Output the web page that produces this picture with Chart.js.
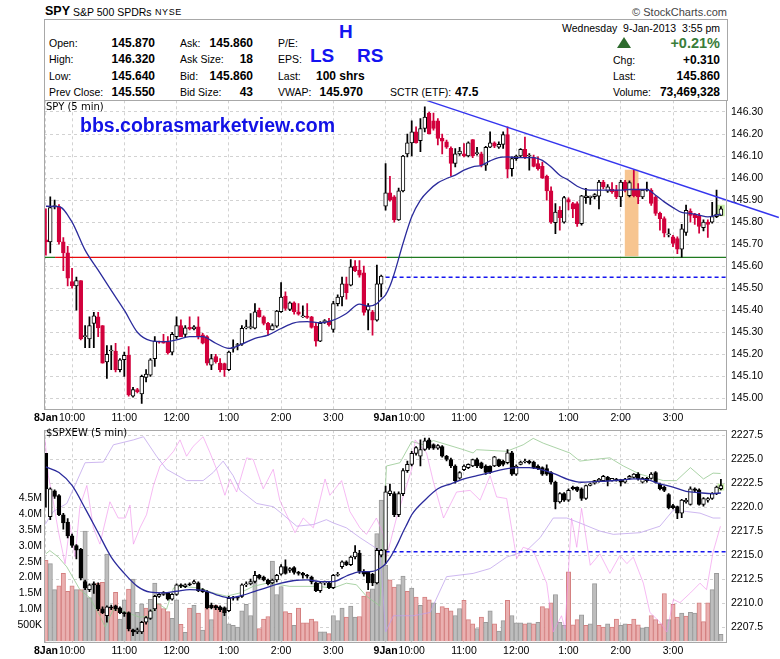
<!DOCTYPE html>
<html>
<head>
<title>SPY 5 min - StockCharts</title>
<style>
  body, html { margin: 0; padding: 0; background: #fff; }
  #page { position: relative; width: 780px; height: 659px; overflow: hidden;
          font-family: "Liberation Sans", Arial, sans-serif; color: #000; }
  .a { position: absolute; white-space: pre; line-height: 14px; font-size: 10.5px; }
  .b { font-weight: bold; font-size: 12px; }
  .big { font-weight: bold; font-size: 19px; color: #1414f0; line-height: 20px; }
  .pan { font-family: "DejaVu Sans", Verdana, sans-serif; font-size: 10px; }
  #box { position: absolute; left: 44px; top: 19px; width: 684px; height: 82px;
         border: 1px solid #a8a8a8; box-sizing: border-box; }
  #tri { position: absolute; left: 617px; top: 37px; width: 0; height: 0;
         border-left: 7px solid transparent; border-right: 7px solid transparent;
         border-bottom: 11px solid #2e6b2e; }
  canvas { position: absolute; left: 0; }
</style>
</head>
<body>
<div id="page">
  <div id="box"></div>
  <div class="a" style="left:45px;top:4px;font-weight:bold;font-size:12.5px;">SPY</div>
  <div class="a" style="left:73px;top:5px;font-size:10.5px;">S&amp;P 500 SPDRs</div>
  <div class="a" style="left:155px;top:5px;font-size:9px;letter-spacing:0.6px;">NYSE</div>
  <div class="a" style="right:53px;top:5px;font-size:11px;color:#444;">&copy; StockCharts.com</div>

  <div class="a" style="left:49px;top:36px;">Open:</div>
  <div class="a" style="left:49px;top:52px;">High:</div>
  <div class="a" style="left:49px;top:69px;">Low:</div>
  <div class="a" style="left:49px;top:85px;">Prev Close:</div>
  <div class="a b" style="right:625px;top:36px;">145.870</div>
  <div class="a b" style="right:625px;top:52px;">146.320</div>
  <div class="a b" style="right:625px;top:69px;">145.640</div>
  <div class="a b" style="right:625px;top:85px;">145.550</div>

  <div class="a" style="left:180px;top:36px;">Ask:</div>
  <div class="a" style="left:180px;top:52px;">Ask Size:</div>
  <div class="a" style="left:180px;top:69px;">Bid:</div>
  <div class="a" style="left:180px;top:85px;">Bid Size:</div>
  <div class="a b" style="right:527px;top:36px;">145.860</div>
  <div class="a b" style="right:527px;top:52px;">18</div>
  <div class="a b" style="right:527px;top:69px;">145.860</div>
  <div class="a b" style="right:527px;top:85px;">43</div>

  <div class="a" style="left:278px;top:36px;">P/E:</div>
  <div class="a" style="left:278px;top:52px;">EPS:</div>
  <div class="a" style="left:278px;top:69px;">Last:</div>
  <div class="a" style="left:278px;top:85px;">VWAP:</div>
  <div class="a b" style="left:316px;top:69px;">100 shrs</div>
  <div class="a b" style="right:417px;top:85px;">145.970</div>
  <div class="a" style="left:390px;top:85px;">SCTR (ETF):</div>
  <div class="a b" style="left:455px;top:85px;">47.5</div>

  <div class="a big" style="left:339px;top:22px;">H</div>
  <div class="a big" style="left:310px;top:46px;">LS</div>
  <div class="a big" style="left:357px;top:46px;">RS</div>

  <div class="a" style="right:60px;top:21px;">Wednesday  9-Jan-2013  3:55 pm</div>
  <div id="tri"></div>
  <div class="a" style="right:60px;top:36px;font-weight:bold;font-size:14.5px;color:#3a7d3a;line-height:15px;">+0.21%</div>
  <div class="a" style="left:613px;top:53px;">Chg:</div>
  <div class="a b" style="right:60px;top:53px;">+0.310</div>
  <div class="a" style="left:613px;top:69px;">Last:</div>
  <div class="a b" style="right:60px;top:69px;">145.860</div>
  <div class="a" style="left:613px;top:85px;">Volume:</div>
  <div class="a b" style="right:60px;top:85px;">73,469,328</div>

  <canvas id="priceChart" width="780" height="335" style="top:90px;"></canvas>
  <canvas id="breadthChart" width="780" height="239" style="top:420px;"></canvas>

  <div class="a pan" style="left:46px;top:100px;">SPY (5 min)</div>
  <div class="a" style="left:80px;top:115px;font-weight:bold;font-size:19.5px;line-height:20px;color:#1212e6;">bbs.cobrasmarketview.com</div>
  <div class="a pan" style="left:46px;top:426px;">$SPXEW (5 min)</div>
</div>

<script src="https://cdn.jsdelivr.net/npm/chart.js"></script>
<script>
// 5-minute bars: 0..77 = 8 Jan 9:30-3:55, 78..155 = 9 Jan 9:30-3:55
const tickBars  = [0, 6, 18, 30, 42, 54, 66, 78, 84, 96, 108, 120, 132, 144];
const tickNames = ['8Jan', '10:00', '11:00', '12:00', '1:00', '2:00', '3:00',
                   '9Jan', '10:00', '11:00', '12:00', '1:00', '2:00', '3:00'];

// SPY candles
const spyOpen = [
  145.72,145.71,145.87,145.87,145.71,145.66,145.53,145.51,145.535,145.28,
  145.27,145.34,145.37,145.33,145.165,145.215,145.215,145.13,145.175,145.195,
  145.01,145.04,145.02,145.095,145.105,145.18,145.26,145.26,145.255,145.21,
  145.28,145.33,145.29,145.322,145.315,145.325,145.288,145.28,145.15,145.19,
  145.16,145.158,145.13,145.226,145.24,145.246,145.32,145.32,145.318,145.40,
  145.37,145.34,145.31,145.328,145.393,145.464,145.404,145.434,145.393,145.37,
  145.373,145.37,145.328,145.26,145.348,145.351,145.313,145.43,145.46,145.52,
  145.514,145.60,145.582,145.57,145.40,145.393,145.355,145.518,
  145.872,145.933,145.915,145.81,145.942,146.11,146.16,146.21,146.17,146.225,
  146.295,146.26,146.26,146.18,146.164,146.135,146.066,146.11,146.11,146.10,
  146.175,146.111,146.11,146.058,146.14,146.16,146.14,146.153,146.197,146.043,
  146.088,146.10,146.13,146.10,146.093,146.066,146.053,146.008,145.942,145.797,
  145.854,145.80,145.902,145.884,145.884,145.793,145.911,145.911,145.915,145.918,
  145.982,145.94,145.95,145.945,145.914,145.982,145.92,145.95,145.947,145.914,
  145.945,145.945,145.914,145.84,145.816,145.742,145.733,145.725,145.677,145.753,
  145.85,145.835,145.83,145.775,145.80,145.80,145.825,145.83
];
const spyHigh = [
  145.86,145.915,145.90,145.88,145.73,145.69,145.59,145.55,145.535,145.33,
  145.37,145.39,145.39,145.33,145.24,145.24,145.25,145.18,145.21,145.235,
  145.05,145.045,145.105,145.13,145.18,145.28,145.26,145.29,145.28,145.30,
  145.37,145.356,145.33,145.37,145.33,145.37,145.295,145.285,145.20,145.20,
  145.18,145.16,145.215,145.265,145.25,145.33,145.355,145.385,145.43,145.41,
  145.375,145.345,145.338,145.40,145.525,145.484,145.438,145.438,145.43,145.42,
  145.43,145.372,145.34,145.348,145.358,145.363,145.44,145.47,145.55,145.55,
  145.63,145.625,145.625,145.60,145.43,145.40,145.605,145.56,
  146.066,146.008,145.92,145.955,146.103,146.20,146.26,146.232,146.27,146.323,
  146.30,146.295,146.27,146.20,146.172,146.142,146.134,146.14,146.156,146.164,
  146.175,146.14,146.118,146.144,146.21,146.164,146.164,146.21,146.232,146.096,
  146.104,146.134,146.186,146.111,146.104,146.096,146.073,146.013,145.96,145.884,
  145.87,145.917,145.91,145.89,145.892,145.922,145.953,145.918,145.93,145.99,
  145.99,145.97,145.98,145.967,145.99,145.99,145.987,146.035,145.975,145.948,
  145.982,145.952,145.92,145.846,145.824,145.77,145.74,145.733,145.79,145.877,
  145.86,145.84,145.84,145.81,145.81,145.89,145.945,145.87
];
const spyLow = [
  145.65,145.66,145.86,145.70,145.58,145.51,145.50,145.40,145.265,145.23,
  145.23,145.23,145.28,145.16,145.09,145.13,145.12,145.12,145.10,145.01,
  145.005,145.025,144.977,145.075,145.10,145.145,145.25,145.25,145.20,145.197,
  145.27,145.28,145.28,145.31,145.31,145.27,145.247,145.15,145.13,145.16,
  145.12,145.10,145.125,145.21,145.22,145.24,145.315,145.315,145.315,145.368,
  145.333,145.287,145.31,145.322,145.39,145.40,145.398,145.382,145.378,145.367,
  145.363,145.318,145.237,145.257,145.34,145.328,145.30,145.42,145.42,145.45,
  145.51,145.575,145.55,145.378,145.31,145.287,145.35,145.46,
  145.854,145.895,145.80,145.808,145.937,146.096,146.10,146.158,146.12,146.21,
  146.20,146.217,146.15,146.11,146.134,146.008,146.05,146.103,146.096,146.096,
  146.093,146.104,146.05,146.035,146.138,146.138,146.134,146.134,146.002,146.008,
  146.08,146.093,146.088,146.036,146.05,146.036,145.998,145.90,145.794,145.748,
  145.763,145.795,145.855,145.82,145.78,145.786,145.885,145.88,145.905,145.86,
  145.952,145.935,145.93,145.906,145.87,145.937,145.914,145.914,145.884,145.906,
  145.94,145.876,145.83,145.763,145.733,145.733,145.688,145.657,145.641,145.74,
  145.80,145.79,145.75,145.76,145.73,145.795,145.82,145.83
];
const spyClose = [
  145.71,145.866,145.875,145.71,145.66,145.545,145.51,145.535,145.27,145.28,
  145.33,145.375,145.32,145.16,145.20,145.215,145.13,145.175,145.195,145.015,
  145.04,145.03,145.10,145.11,145.175,145.26,145.255,145.25,145.207,145.29,
  145.33,145.28,145.32,145.315,145.325,145.28,145.25,145.16,145.18,145.166,
  145.13,145.13,145.21,145.226,145.24,145.318,145.32,145.326,145.393,145.37,
  145.34,145.31,145.33,145.396,145.46,145.408,145.434,145.393,145.382,145.372,
  145.367,145.322,145.26,145.34,145.35,145.333,145.43,145.46,145.52,145.48,
  145.597,145.58,145.559,145.39,145.42,145.355,145.52,145.555,
  145.933,145.90,145.81,145.942,146.10,146.16,146.21,146.16,146.225,146.277,
  146.20,146.225,146.18,146.168,146.14,146.066,146.11,146.123,146.10,146.16,
  146.10,146.111,146.058,146.14,146.16,146.145,146.153,146.197,146.04,146.088,
  146.10,146.13,146.093,146.10,146.053,146.043,146.00,145.942,145.80,145.846,
  145.82,145.911,145.89,145.86,145.793,145.919,145.919,145.918,145.925,145.982,
  145.96,145.96,145.937,145.914,145.982,145.945,145.98,145.92,145.914,145.945,
  145.945,145.885,145.84,145.816,145.75,145.742,145.703,145.677,145.77,145.854,
  145.83,145.82,145.78,145.80,145.79,145.825,145.836,145.86
];
// SPY moving average, read at [bar, price]
const spyAvg = [
  [0,145.872],[3,145.87],[6,145.80],[9,145.673],[12,145.582],[15,145.49],[18,145.40],
  [21,145.30],[24,145.262],[27,145.257],[30,145.265],[33,145.28],[36,145.28],[39,145.25],
  [42,145.227],[45,145.246],[48,145.272],[51,145.287],[54,145.317],[57,145.343],[60,145.348],
  [63,145.343],[66,145.355],[69,145.385],[72,145.428],[74,145.418],[76,145.43],[77,145.45],
  [78,145.47],[79,145.51],[80,145.567],[82,145.703],[84,145.824],[86,145.90],[88,145.945],
  [90,145.978],[92,145.998],[94,146.013],[96,146.036],[98,146.051],[100,146.058],[102,146.078],
  [104,146.093],[106,146.096],[108,146.093],[110,146.093],[112,146.093],[114,146.08],[116,146.05],
  [118,146.013],[120,145.99],[122,145.963],[124,145.948],[126,145.945],[128,145.945],[130,145.945],
  [132,145.945],[134,145.948],[136,145.948],[138,145.948],[140,145.922],[142,145.892],[144,145.866],
  [146,145.844],[148,145.84],[150,145.832],[152,145.824],[154,145.832],[155,145.836]
];
const lowLevel = 145.64;
const prevClose = 145.55;
const trendPts = [[87.4, 146.353], [168.3, 145.821]];
const hiZone = { bar: 134.5, low: 145.647, high: 146.036 };
const spyLastMark = { bar: 155, low: 145.828, high: 145.877 };

// $SPXEW candles
const exOpen = [
  2225.6,2219.0,2221.7,2221.2,2219.2,2218.45,2217.0,2216.0,2215.6,2212.25,
  2211.4,2212.0,2211.9,2209.4,2208.7,2209.6,2209.7,2209.5,2209.0,2209.0,
  2207.2,2207.0,2207.0,2208.0,2208.4,2209.4,2210.7,2210.9,2211.06,2210.4,
  2210.9,2211.9,2211.7,2212.0,2212.05,2212.1,2211.4,2211.2,2209.8,2209.7,
  2209.6,2209.5,2209.2,2210.6,2210.6,2210.7,2211.9,2212.0,2212.25,2212.9,
  2212.7,2212.4,2212.1,2212.4,2213.0,2213.8,2213.4,2213.7,2213.2,2213.1,
  2212.9,2212.7,2212.1,2211.3,2212.1,2212.1,2211.6,2212.9,2213.8,2214.3,
  2214.0,2214.8,2215.2,2213.3,2213.2,2213.0,2212.1,2215.0,
  2215.5,2221.4,2221.4,2219.2,2221.4,2223.8,2224.45,2225.6,2225.3,2226.0,
  2227.0,2226.5,2226.15,2226.3,2225.3,2224.96,2224.28,2223.0,2223.9,2224.1,
  2224.28,2224.96,2224.6,2224.28,2224.28,2224.28,2224.96,2224.8,2224.62,2225.64,
  2223.43,2224.45,2224.7,2224.8,2224.7,2224.28,2224.11,2224.0,2223.6,2222.59,
  2220.55,2221.4,2220.72,2222.08,2222.08,2221.91,2220.89,2222.25,2222.5,2222.7,
  2222.76,2223.1,2222.76,2222.93,2222.86,2222.59,2222.99,2223.1,2223.43,2222.6,
  2222.99,2222.99,2223.6,2222.4,2222.08,2221.3,2220.15,2220.04,2219.37,2220.55,
  2220.28,2221.91,2221.8,2220.28,2220.72,2220.89,2221.4,2221.91
];
const exHigh = [
  2225.6,2222.0,2221.8,2221.3,2219.35,2218.8,2217.2,2216.1,2215.7,2212.4,
  2212.0,2212.2,2212.1,2209.6,2209.7,2209.8,2209.8,2209.6,2209.1,2209.1,
  2207.3,2207.4,2208.1,2208.6,2209.3,2210.8,2211.0,2211.2,2211.1,2211.0,
  2212.0,2212.0,2212.0,2212.1,2212.4,2212.2,2211.5,2211.3,2210.0,2209.8,
  2209.7,2209.6,2210.7,2210.7,2210.6,2212.0,2212.2,2212.5,2213.3,2213.0,
  2212.8,2212.5,2212.5,2213.0,2214.0,2214.5,2213.7,2213.8,2213.3,2213.2,
  2213.0,2212.8,2212.2,2212.2,2212.3,2212.2,2213.0,2213.2,2214.4,2214.4,
  2214.9,2216.0,2215.5,2213.5,2213.3,2213.1,2215.7,2215.6,
  2222.2,2222.4,2221.6,2221.6,2224.0,2224.8,2225.8,2226.3,2227.0,2227.2,
  2227.2,2226.6,2226.5,2226.4,2225.4,2225.1,2224.4,2223.7,2224.4,2224.5,
  2225.0,2225.1,2224.7,2224.4,2224.3,2225.3,2225.0,2224.9,2226.0,2225.8,
  2224.4,2224.8,2225.0,2224.9,2224.8,2224.4,2224.2,2224.4,2223.7,2222.7,
  2221.5,2221.5,2221.9,2222.2,2222.1,2222.0,2222.3,2222.5,2222.8,2223.0,
  2223.3,2223.2,2223.0,2223.0,2222.9,2223.0,2223.3,2223.5,2223.6,2223.1,
  2223.1,2223.6,2223.7,2222.5,2222.2,2221.4,2220.3,2220.1,2220.8,2220.9,
  2222.1,2222.0,2221.9,2221.0,2221.0,2221.5,2222.2,2222.9
];
const exLow = [
  2220.0,2218.7,2220.9,2219.1,2217.7,2216.8,2215.8,2214.6,2212.4,2211.4,
  2211.2,2211.0,2209.2,2208.9,2208.0,2209.3,2209.2,2208.9,2208.6,2207.1,
  2206.6,2206.8,2206.8,2207.8,2208.3,2209.2,2210.6,2210.8,2210.3,2210.3,
  2210.8,2211.6,2211.6,2211.8,2212.0,2211.2,2211.1,2209.4,2209.4,2209.3,
  2209.1,2208.7,2209.1,2210.3,2210.3,2210.6,2211.7,2211.9,2212.1,2212.5,
  2212.3,2211.9,2212.0,2212.2,2212.9,2213.0,2213.2,2213.0,2212.9,2212.6,
  2212.6,2212.0,2211.2,2211.1,2211.9,2211.5,2211.5,2212.8,2213.6,2213.9,
  2213.9,2214.6,2213.1,2212.8,2211.4,2211.8,2212.0,2214.8,
  2214.1,2221.2,2219.0,2219.0,2221.2,2223.6,2224.3,2225.4,2224.3,2225.9,
  2226.0,2226.0,2226.0,2225.2,2224.8,2224.1,2222.5,2222.9,2223.8,2224.0,
  2224.2,2224.1,2224.0,2223.4,2223.5,2224.2,2224.2,2224.3,2224.5,2223.3,
  2223.3,2224.4,2224.6,2224.5,2224.0,2223.9,2223.3,2223.3,2222.4,2219.8,
  2220.4,2220.6,2220.6,2221.8,2221.6,2220.7,2220.8,2222.2,2222.4,2222.6,
  2222.7,2222.2,2222.7,2222.7,2222.2,2222.5,2222.9,2223.0,2222.8,2222.5,
  2222.6,2222.9,2222.5,2221.8,2221.6,2219.8,2219.8,2218.8,2218.9,2220.4,
  2220.2,2221.6,2220.2,2220.1,2220.5,2220.8,2221.3,2221.8
];
const exClose = [
  2221.9,2221.9,2221.1,2219.2,2218.35,2217.0,2216.0,2215.5,2212.6,2211.6,
  2211.9,2211.9,2209.4,2209.0,2209.6,2209.5,2209.4,2209.0,2208.9,2207.3,
  2207.0,2207.2,2208.0,2208.5,2209.2,2210.7,2210.9,2211.1,2210.4,2210.9,
  2211.9,2211.75,2211.9,2211.9,2212.25,2211.3,2211.2,2209.5,2209.5,2209.5,
  2209.3,2209.0,2210.5,2210.5,2210.5,2211.9,2212.0,2212.25,2212.9,2212.6,
  2212.4,2212.0,2212.4,2212.9,2213.8,2213.1,2213.6,2213.2,2213.1,2212.9,
  2212.8,2212.2,2211.3,2212.1,2212.2,2211.6,2212.9,2213.0,2214.3,2214.0,
  2214.8,2215.3,2213.3,2213.0,2212.1,2212.1,2215.5,2215.5,
  2221.6,2221.7,2219.2,2221.4,2223.8,2224.45,2225.6,2226.2,2225.98,2226.9,
  2226.15,2226.15,2226.4,2225.3,2224.96,2224.28,2222.76,2223.6,2224.28,2224.45,
  2224.96,2224.28,2224.1,2223.6,2223.6,2225.23,2224.28,2224.45,2225.64,2223.43,
  2224.28,2224.69,2224.79,2224.6,2224.11,2224.01,2223.43,2223.43,2222.59,2220.55,
  2221.4,2220.72,2221.74,2221.91,2221.74,2220.89,2222.25,2222.42,2222.75,2222.93,
  2223.2,2222.76,2222.99,2222.76,2222.59,2222.93,2223.2,2223.43,2222.93,2222.99,
  2222.76,2223.43,2222.59,2221.91,2221.74,2219.94,2219.94,2219.37,2220.72,2220.72,
  2221.91,2221.74,2220.28,2220.89,2220.89,2221.4,2222.08,2222.25
];
const exAvg = [
  [0,2224.18],[3,2223.6],[6,2222.25],[9,2219.87],[12,2217.33],[15,2214.79],[18,2213.09],
  [21,2211.74],[24,2211.13],[27,2211.06],[30,2211.23],[33,2211.4],[36,2211.33],[39,2210.89],
  [42,2210.55],[45,2210.79],[48,2211.23],[51,2211.67],[54,2212.07],[57,2212.35],[60,2212.41],
  [63,2212.24],[66,2212.24],[69,2212.82],[72,2213.26],[75,2213.3],[77,2213.7],[78,2214.1],
  [79,2214.7],[80,2215.5],[81,2216.4],[82,2217.4],[83,2218.3],[84,2219.2],[87,2220.72],
  [90,2221.91],[93,2222.42],[96,2222.93],[99,2223.27],[102,2223.6],[105,2223.94],[108,2224.11],
  [111,2224.11],[114,2223.87],[117,2223.43],[120,2222.86],[123,2222.59],[126,2222.66],[129,2222.72],
  [132,2222.82],[135,2222.93],[138,2222.86],[141,2222.42],[144,2222.08],[147,2221.64],[150,2221.5],
  [153,2221.4],[155,2221.47]
];
const exPrevClose = 2215.35;
const exLastMark = { bar: 155, low: 2221.75, high: 2222.4 };

// volume in millions, p = down bar, g = up bar
const volume = [
  2.54,2.44,1.62,1.74,2.13,1.57,1.74,1.62,1.62,3.46,
  1.37,1.83,1.83,1.85,2.74,1.06,1.54,0.70,1.30,1.64,
  1.95,0.91,1.18,1.04,1.32,1.83,1.18,1.03,0.93,0.72,
  1.30,0.53,0.28,1.04,1.13,0.89,0.35,1.06,0.68,1.13,
  1.01,1.06,0.55,0.50,0.45,0.96,1.16,0.81,2.03,0.40,
  0.70,0.78,2.52,1.47,1.72,0.93,0.88,0.50,1.04,0.58,
  0.58,0.70,0.62,0.30,0.30,0.24,0.81,0.65,1.04,0.76,
  1.11,0.76,0.78,1.42,1.55,1.65,3.38,4.43,
  2.39,1.93,1.70,1.78,2.05,1.57,1.67,1.39,1.13,1.39,
  1.30,1.21,0.89,1.09,1.04,0.96,0.81,1.03,1.29,0.68,
  0.55,0.40,0.76,0.60,0.96,0.55,0.32,0.65,1.29,0.81,
  0.58,0.58,0.55,0.58,0.55,0.60,1.09,1.03,1.21,1.47,
  0.60,0.50,2.18,0.52,0.68,0.83,0.50,0.55,1.81,0.50,
  0.45,0.55,0.45,0.70,0.50,0.55,0.53,0.70,0.52,0.42,
  0.45,0.81,0.68,0.55,1.50,0.68,1.16,0.76,0.89,0.79,
  0.91,0.89,1.21,0.62,1.21,1.62,2.13,0.22
];
const volSide =
  'pggppppgpg' + 'ggppgppggp' + 'gggpggpppg' + 'gpgpgpgpgp' + 'pggggggggp' +
  'ppgggppgpp' + 'pppggpgggp' + 'ggpppggg' +
  'gppggpgpgp' + 'pgppppggpp' + 'pgpggpggpg' + 'ggpgpgpppg' + 'ggpppgpggp' +
  'pgppggpppg' + 'gppppgppgp' + 'ggpppggg';

// faint overlay traces in the lower panel, [bar, value]
const pinkTrace = [
  [-0.2,2227.0],[0.56,2223.27],[1.7,2220.55],[2.85,2217.5],[4.4,2214.1],[5.5,2218.18],[6.7,2214.79],
  [7.8,2220.04],[9.4,2222.25],[10.9,2217.84],[12.4,2216.14],[14.7,2220.55],[16.6,2218.86],[18.2,2218.86],
  [19.3,2220.21],[20.1,2216.14],[21.6,2217.84],[23.1,2219.2],[24.7,2222.25],[26.2,2224.28],[27.7,2224.96],
  [29.3,2225.81],[30.8,2227.0],[32.3,2225.3],[33.8,2226.32],[36.1,2227.33],[37.7,2225.64],[39.2,2223.94],
  [41.1,2221.23],[42.3,2222.93],[43.8,2221.57],[46.1,2225.13],[47.6,2224.96],[49.9,2221.91],[52.2,2223.94],
  [53.7,2220.72],[57.2,2217.33],[59.1,2218.86],[61.4,2217.84],[64.1,2222.93],[65.2,2221.23],[67.9,2222.76],
  [69.8,2219.54],[72.1,2217.84],[73.6,2217.16],[75.9,2218.86],[77.5,2217.16],
  [78.2,2214.79],[80.5,2218.86],[84.0,2223.94],[84.8,2227.0],[87.4,2225.64],[89.0,2222.59],[91.3,2218.86],
  [94.3,2221.57],[97.4,2221.74],[99.7,2220.72],[102.0,2223.27],[103.5,2221.06],[105.8,2220.89],[108.1,2214.62],
  [109.6,2215.81],[111.9,2215.47],[115.0,2212.07],[116.5,2206.99],[118.4,2208.68],[119.2,2207.33],[120.7,2218.86],
  [121.9,2215.81],[123.0,2219.87],[125.0,2213.94],[127.2,2215.13],[129.5,2213.09],[131.8,2214.96],[133.4,2214.11],
  [134.9,2214.79],[137.2,2212.07],[138.7,2209.02],[141.0,2208.01],[142.6,2206.99],[144.1,2210.38],[145.6,2210.04],
  [148.0,2211.06],[150.2,2212.07],[151.7,2211.4],[153.2,2215.3],[154.9,2218.01]
];
const lilacTrace = [
  [-0.2,2218.18],[1.7,2219.54],[4.8,2220.38],[9.0,2224.62],[13.2,2224.69],[15.5,2226.49],[20.1,2227.0],
  [22.4,2227.33],[25.4,2225.3],[27.7,2223.94],[32.3,2222.76],[36.1,2222.76],[38.4,2223.6],[40.7,2224.79],
  [43.0,2223.27],[44.6,2221.74],[48.4,2220.38],[52.2,2220.04],[54.5,2219.2],[57.6,2218.01],[61.4,2218.18],
  [64.4,2218.69],[66.0,2218.35],[69.0,2217.84],[72.1,2216.82],[74.4,2216.14],[76.7,2215.47],
  [78.0,2206.99],[79.8,2208.68],[84.4,2208.68],[88.2,2209.02],[92.0,2212.75],[98.1,2213.09],[102.0,2213.6],
  [105.8,2214.79],[110.4,2215.47],[113.5,2216.82],[116.5,2218.86],[119.6,2218.86],[122.6,2218.35],[127.2,2217.5],
  [130.3,2217.16],[136.4,2217.33],[141.0,2218.01],[144.1,2219.71],[147.1,2219.54],[150.2,2219.37],[153.2,2218.86],
  [154.9,2218.86]
];
const greenTrace = [
  [0,2215.13],[0.9,2215.47],[2.85,2214.79],[4.8,2213.77],[7.8,2211.4],[10.1,2210.55],[12.4,2208.68],
  [13.6,2207.5],[15.5,2209.36],[18.5,2209.02],[21.6,2208.52],[23.9,2208.68],[25.4,2210.04],[27.7,2209.36],
  [29.3,2211.57],[30.8,2211.74],[35.4,2211.57],[38.4,2211.06],[41.5,2210.72],[44.6,2211.06],[47.6,2211.74],
  [50.7,2212.07],[53.7,2211.91],[56.0,2211.74],[62.2,2211.74],[66.0,2211.57],[69.0,2212.07],[71.3,2211.91],
  [73.6,2210.72],[76.7,2209.7],
  [78.2,2224.28],[81.3,2224.62],[84.0,2226.83],[86.7,2226.49],[89.0,2226.93],[95.9,2225.98],[98.1,2225.64],
  [98.9,2225.98],[105.8,2225.81],[109.6,2226.49],[111.9,2227.16],[114.2,2226.66],[120.3,2225.64],[122.6,2224.79],
  [125.7,2224.96],[129.5,2225.13],[132.6,2224.28],[136.4,2223.43],[141.8,2222.76],[144.8,2222.76],[148.0,2224.11],
  [151.0,2222.93],[153.2,2223.54],[154.9,2223.5]
];

const FONT = '"Liberation Sans", Arial, sans-serif';
const X_MIN = -0.44, X_MAX = 156.4;
const RED_FROM = 2.1, RED_TO = 78.3;
Chart.defaults.font.family = FONT;

const pts = arr => arr.map(p => ({ x: p[0], y: p[1] }));

const frame = {
  id: 'frame',
  afterDraw(chart) {
    const a = chart.chartArea, ctx = chart.ctx;
    ctx.save();
    ctx.strokeStyle = '#a8a8a8';
    ctx.lineWidth = 1;
    ctx.strokeRect(Math.round(a.left) + 0.5, Math.round(a.top) + 0.5,
                   Math.round(a.right - a.left) - 1, Math.round(a.bottom - a.top) - 1);
    ctx.restore();
  }
};

function timeAxis(h) {
  return {
    type: 'linear', min: X_MIN, max: X_MAX, offset: false,
    afterBuildTicks: s => { s.ticks = tickBars.map(v => ({ value: v })); },
    afterFit: s => { s.height = h; },
    ticks: {
      autoSkip: false, maxRotation: 0, minRotation: 0, padding: 2, color: '#000',
      font: c => {
        const n = c.tick ? tickNames[tickBars.indexOf(c.tick.value)] : '';
        return { family: FONT, size: 10.5, weight: n && n.indexOf('Jan') > 0 ? 'bold' : 'normal' };
      },
      callback: v => tickNames[tickBars.indexOf(v)]
    },
    grid: { color: '#d2d2d2', drawTicks: false, offset: false },
    border: { display: false, dash: [3, 3] }
  };
}

function candles(o, h, l, c, downFill, downWick, axis) {
  const down = o.map((v, i) => c[i] < v);
  return [
    {
      data: o.map((v, i) => ({ x: i, y: [l[i], h[i]] })),
      backgroundColor: down.map(d => d ? downWick : '#000'),
      barThickness: 1.1, grouped: false, order: 5, yAxisID: axis
    },
    {
      data: o.map((v, i) => ({ x: i, y: [v, c[i]] })),
      backgroundColor: down.map(d => d ? downFill : '#fff'),
      borderColor: down.map(d => d ? downFill : '#000'),
      borderWidth: 1, borderSkipped: false, barThickness: 3.8, minBarLength: 1,
      grouped: false, order: 4, yAxisID: axis
    }
  ];
}

function flatLine(y, x0, x1, color, dash, order, width) {
  return {
    type: 'line', data: [{ x: x0, y: y }, { x: x1, y: y }], borderColor: color,
    borderWidth: width || 1.4, borderDash: dash, pointRadius: 0, order: order
  };
}

const common = {
  responsive: false, animation: false, events: [],
  plugins: { legend: { display: false }, tooltip: { enabled: false } }
};

// upper panel: SPY
new Chart(document.getElementById('priceChart'), {
  type: 'bar',
  data: {
    datasets: [
      { data: [{ x: hiZone.bar, y: [hiZone.low, hiZone.high] }], backgroundColor: '#f7c590',
        barThickness: 13, grouped: false, order: 20 },
      { data: [{ x: spyLastMark.bar, y: [spyLastMark.low, spyLastMark.high] }], backgroundColor: '#c9eeaa',
        barThickness: 7, grouped: false, order: 19 },
      flatLine(lowLevel, X_MIN, RED_FROM, '#1f7a1f', [], 9),
      flatLine(lowLevel, RED_TO, X_MAX, '#1f7a1f', [], 9),
      flatLine(lowLevel, RED_FROM, RED_TO, '#e80c0c', [], 8),
      flatLine(prevClose, 78, X_MAX, '#1515f0', [4, 3], 8),
      ...candles(spyOpen, spyHigh, spyLow, spyClose, '#d2003c', '#d2003c', 'y'),
      { type: 'line', data: pts(spyAvg), borderColor: '#2b2b9c', borderWidth: 1.3,
        pointRadius: 0, cubicInterpolationMode: 'monotone', order: 2 },
      { type: 'line', data: pts(trendPts), borderColor: '#3535ee', borderWidth: 1.4,
        pointRadius: 0, clip: false, order: 1 }
    ]
  },
  options: {
    ...common,
    layout: { padding: { left: 44, top: 10, right: 0, bottom: 0 } },
    scales: {
      x: timeAxis(15),
      y: {
        type: 'linear', position: 'right', min: 144.947, max: 146.353,
        afterFit: s => { s.width = 53; },
        ticks: { stepSize: 0.1, includeBounds: false, padding: 4, color: '#000',
                 font: { family: FONT, size: 10.5 }, callback: v => v.toFixed(2) },
        grid: { color: '#d2d2d2', drawTicks: false },
        border: { display: false, dash: [3, 3] }
      }
    }
  },
  plugins: [frame]
});

// lower panel: $SPXEW with volume
new Chart(document.getElementById('breadthChart'), {
  type: 'bar',
  data: {
    datasets: [
      { data: volume.map((v, i) => ({ x: i, y: v })), yAxisID: 'v',
        backgroundColor: volume.map((v, i) => volSide[i] === 'p' ? '#eab0b0' : '#bdbdbd'),
        borderColor: volume.map((v, i) => volSide[i] === 'p' ? '#d48080' : '#9a9a9a'),
        borderWidth: 1, barThickness: 4.35, grouped: false, order: 20 },
      { data: [{ x: exLastMark.bar, y: [exLastMark.low, exLastMark.high] }], backgroundColor: '#c9eeaa',
        barThickness: 6, grouped: false, order: 19, yAxisID: 'y' },
      { type: 'line', data: pts(pinkTrace), borderColor: 'rgba(240,140,235,0.6)', borderWidth: 1,
        pointRadius: 0, order: 10, yAxisID: 'y' },
      { type: 'line', data: pts(lilacTrace), borderColor: 'rgba(190,160,235,0.75)', borderWidth: 1,
        pointRadius: 0, order: 10, yAxisID: 'y' },
      { type: 'line', data: pts(greenTrace), borderColor: 'rgba(150,200,145,0.8)', borderWidth: 1,
        pointRadius: 0, order: 10, yAxisID: 'y' },
      { ...flatLine(exPrevClose, 78, X_MAX, '#1515f0', [4, 3], 8), yAxisID: 'y' },
      ...candles(exOpen, exHigh, exLow, exClose, '#000', '#000', 'y'),
      { type: 'line', data: pts(exAvg), borderColor: '#2b2b9c', borderWidth: 1.3,
        pointRadius: 0, cubicInterpolationMode: 'monotone', order: 2, yAxisID: 'y' }
    ]
  },
  options: {
    ...common,
    layout: { padding: { left: 0, top: 5, right: 0, bottom: 0 } },
    scales: {
      x: timeAxis(16),
      y: {
        type: 'linear', position: 'right', min: 2205.84, max: 2228.0,
        afterFit: s => { s.width = 53; },
        ticks: { stepSize: 2.5, includeBounds: false, padding: 4, color: '#000',
                 font: { family: FONT, size: 10.5 }, callback: v => v.toFixed(1) },
        grid: { color: '#d2d2d2', drawTicks: false },
        border: { display: false, dash: [3, 3] }
      },
      v: {
        type: 'linear', position: 'left', min: -0.052, max: 6.62,
        afterFit: s => { s.width = 44; },
        afterBuildTicks: s => { s.ticks = [0.5, 1, 1.5, 2, 2.5, 3, 3.5, 4, 4.5].map(v => ({ value: v })); },
        ticks: { padding: 2, color: '#000', font: { family: FONT, size: 10.5 },
                 callback: v => v === 0.5 ? '500K' : v.toFixed(1) + 'M' },
        grid: { display: false, drawTicks: false },
        border: { display: false }
      }
    }
  },
  plugins: [frame]
});
</script>
</body>
</html>
